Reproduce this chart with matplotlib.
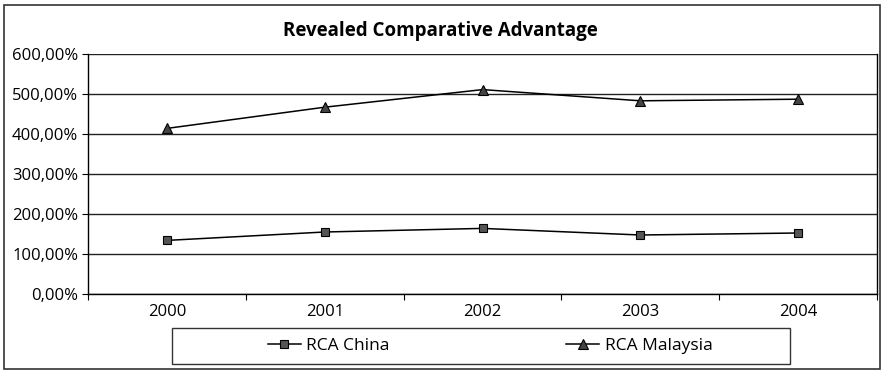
import matplotlib.pyplot as plt
from matplotlib.patches import Rectangle
from matplotlib.ticker import FuncFormatter

years = ["2000", "2001", "2002", "2003", "2004"]
rca_china = [134, 155, 164, 147.5, 152.5]
rca_malaysia = [414, 467, 511, 483, 487]

plt.rcParams['font.family'] = ['Open Sans', 'DejaVu Sans']

fig = plt.figure(figsize=(8.83, 3.71), dpi=100)
ax = fig.add_axes([88 / 883, 1 - 294 / 371, (877 - 88) / 883, (294 - 54) / 371])

x = range(len(years))
ax.plot(x, rca_china, color="black", lw=1.1, marker="s", markersize=5.5,
        markerfacecolor="#555555", markeredgecolor="black", markeredgewidth=0.8,
        label="RCA China")
ax.plot(x, rca_malaysia, color="black", lw=1.1, marker="^", markersize=7,
        markerfacecolor="#444444", markeredgecolor="black", markeredgewidth=0.8,
        label="RCA Malaysia")

ax.set_xlim(-0.5, len(years) - 0.5)
ax.set_ylim(0, 600)
ax.set_yticks(range(0, 601, 100))
ax.yaxis.set_major_formatter(FuncFormatter(lambda v, p: f"{v:.2f}%".replace(".", ",")))
ax.grid(axis="y", color="#222222", lw=1)
ax.set_axisbelow(True)

# category labels sit between the boundary ticks
ax.set_xticks([i - 0.5 for i in range(len(years) + 1)])
ax.set_xticklabels([])
ax.set_xticks(list(x), minor=True)
ax.set_xticklabels(years, minor=True)
ax.tick_params(axis="x", which="major", length=4, direction="out", color="black")
ax.tick_params(axis="x", which="minor", length=0, pad=7, labelsize=12)
ax.tick_params(axis="y", length=4, direction="out", pad=3, labelsize=12)

for side in ["left", "bottom", "right"]:
    ax.spines[side].set_color("black")
    ax.spines[side].set_linewidth(1)
ax.spines["top"].set_visible(False)

fig.text(440 / 883, 1 - 31 / 371, "Revealed Comparative Advantage",
         ha="center", va="center", fontsize=13.5, fontweight="bold")

# legend box
fig.patches.append(Rectangle((172 / 883, 1 - 364 / 371), (790 - 172) / 883, 36 / 371,
                             transform=fig.transFigure, fill=False,
                             edgecolor="#333333", lw=1))
fig.legend(loc="center", bbox_to_anchor=(490 / 883, 1 - 346 / 371), ncol=2,
           frameon=False, fontsize=12.5, handlelength=1.9, handletextpad=0.3,
           columnspacing=10.2)

# outer chart border
fig.patches.append(Rectangle((4 / 883, 1 - 369 / 371), (880 - 4) / 883, (369 - 5) / 371,
                             transform=fig.transFigure, fill=False,
                             edgecolor="#333333", lw=1.2))

fig.savefig("out.png", dpi=100)
